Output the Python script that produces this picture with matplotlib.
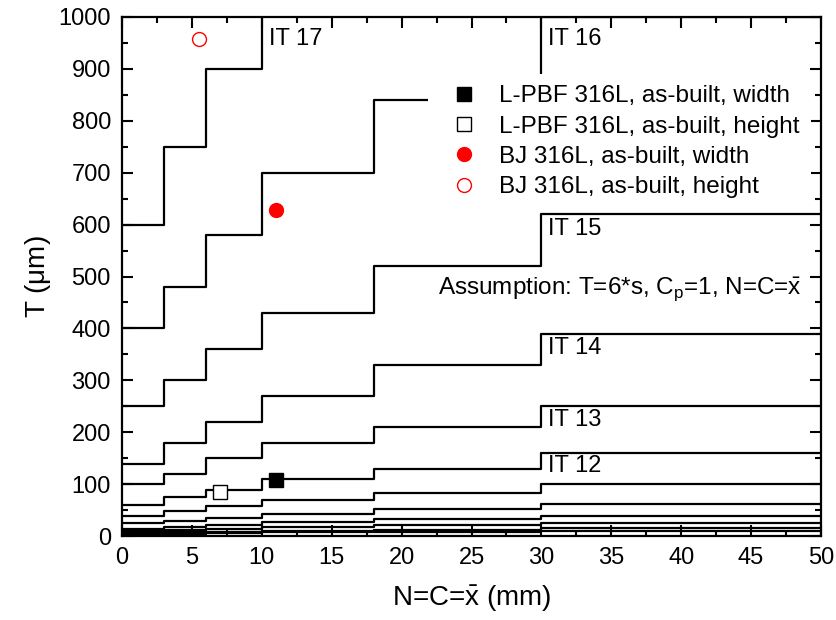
import matplotlib.pyplot as plt
from matplotlib.ticker import MultipleLocator

plt.rcParams["font.family"] = ["Liberation Sans", "DejaVu Sans"]
plt.rcParams["mathtext.fontset"] = "custom"
plt.rcParams["mathtext.rm"] = "Liberation Sans"
plt.rcParams["mathtext.it"] = "Liberation Sans"

# nominal size ranges (mm) and ISO tolerance values (um) per IT grade
size_edges = [0, 3, 6, 10, 18, 30, 50]
it5 = [4, 5, 6, 8, 9, 11]
it6 = [6, 8, 9, 11, 13, 16]
it7 = [10, 12, 15, 18, 21, 25]
it8 = [14, 18, 22, 27, 33, 39]
it9 = [25, 30, 36, 43, 52, 62]
it10 = [40, 48, 58, 70, 84, 100]
it11 = [60, 75, 90, 110, 130, 160]
it12 = [100, 120, 150, 180, 210, 250]
it13 = [140, 180, 220, 270, 330, 390]
it14 = [250, 300, 360, 430, 520, 620]
it15 = [400, 480, 580, 700, 840, 1000]
it16 = [600, 750, 900, 1100, 1300, 1600]
grades = [it5, it6, it7, it8, it9, it10, it11, it12, it13, it14, it15, it16]

grade_labels = ["IT 17", "IT 16", "IT 15", "IT 14", "IT 13", "IT 12"]
label_x = [10.5, 30.5, 30.5, 30.5, 30.5, 30.5]
label_y = [957, 957, 592, 363, 223, 136]

# measured parts
lpbf_w = (11, 108)
lpbf_h = (7, 86)
bj_w = (11, 628)
bj_h = (5.5, 957)

fig = plt.figure(figsize=(8.36, 6.2), dpi=100)
ax = fig.add_axes([0.146, 0.135, 0.836, 0.838])

for vals in grades:
    ax.step(size_edges, vals + [vals[-1]], where="post", color="black", lw=1.6, zorder=2)

ax.plot(*lpbf_w, "s", color="black", ms=10, label="L-PBF 316L, as-built, width", zorder=4)
ax.plot(*lpbf_h, "s", mfc="white", mec="black", mew=1, ms=10,
        label="L-PBF 316L, as-built, height", zorder=4)
ax.plot(*bj_w, "o", color="red", ms=10, label="BJ 316L, as-built, width", zorder=4)
ax.plot(*bj_h, "o", mfc="white", mec="red", mew=1, ms=10,
        label="BJ 316L, as-built, height", zorder=4)

for lab, x, y in zip(grade_labels, label_x, label_y):
    ax.text(x, y, lab, fontsize=17, va="center", ha="left")

ax.text(48.6, 475, r"Assumption: T=6*s, C$_\mathrm{p}$=1, N=C=$\mathrm{\bar{x}}$",
        fontsize=17.5, ha="right", va="center")

leg = ax.legend(loc="upper left", bbox_to_anchor=(0.438, 0.889), borderaxespad=0,
                fontsize=17.5, handlelength=2.07, handletextpad=0.4, labelspacing=0.34,
                frameon=True, fancybox=False, edgecolor="none", facecolor="white",
                framealpha=1, borderpad=0.45)
leg.set_zorder(3)

ax.set_xlim(0, 50)
ax.set_ylim(0, 1000)
ax.xaxis.set_major_locator(MultipleLocator(5))
ax.xaxis.set_minor_locator(MultipleLocator(2.5))
ax.yaxis.set_major_locator(MultipleLocator(100))
ax.yaxis.set_minor_locator(MultipleLocator(50))
ax.tick_params(which="both", direction="in", top=True, right=True, width=1.5)
ax.tick_params(which="major", length=8, labelsize=17, pad=8)
ax.tick_params(which="minor", length=4)
for s in ax.spines.values():
    s.set_linewidth(1.6)

ax.set_xlabel(r"N=C=$\mathrm{\bar{x}}$ (mm)", fontsize=20, labelpad=10)
ax.set_ylabel(r"T ($\mathrm{\mu}$m)", fontsize=20, labelpad=4)

fig.savefig("out.png", dpi=100)
